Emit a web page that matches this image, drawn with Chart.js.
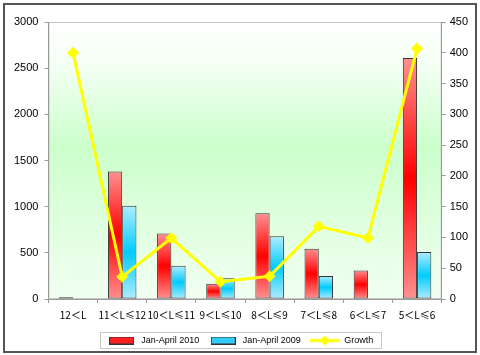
<!DOCTYPE html>
<html>
<head>
<meta charset="utf-8">
<script src="https://cdn.jsdelivr.net/npm/chart.js@4.4.0/dist/chart.umd.min.js"></script>
<style>
  html, body { margin: 0; padding: 0; background: #fff; }
  #wrap { width: 480px; height: 355px; }
</style>
</head>
<body>
<div id="wrap"><canvas id="myChart" width="480" height="355"></canvas></div>
<script>
const categories = ['12＜L', '11＜L≤12', '10＜L≤11', '9＜L≤10', '8＜L≤9', '7＜L≤8', '6＜L≤7', '5＜L≤6'];
const sales2010 = [20, 1380, 710, 165, 930, 545, 310, 2610];
const sales2009 = [0, 1010, 360, 225, 680, 250, 0, 510];
const growth = [400, 36, 99, 28, 37, 118, 99, 407];
const leftTicks = [0, 500, 1000, 1500, 2000, 2500, 3000];
const rightTicks = [0, 50, 100, 150, 200, 250, 300, 350, 400, 450];

// dégradé vertical des barres : clair en haut et en bas, saturé au milieu
function barGradient(light, mid) {
  return function (c) {
    const chart = c.chart;
    if (!chart.chartArea) return mid;
    const y = chart.scales.y;
    const top = y.getPixelForValue(c.raw);
    const bot = y.getPixelForValue(0);
    if (bot - top < 2) return mid;
    const g = chart.ctx.createLinearGradient(0, top, 0, bot);
    g.addColorStop(0, light);
    g.addColorStop(0.5, mid);
    g.addColorStop(1, light);
    return g;
  };
}

function legendIcon(kind) {
  const cv = document.createElement('canvas');
  const x = cv.getContext('2d');
  if (kind === 'line') {
    cv.width = 30; cv.height = 10;
    x.strokeStyle = '#ffff00';
    x.lineWidth = 3;
    x.beginPath(); x.moveTo(0, 5); x.lineTo(30, 5); x.stroke();
    x.fillStyle = '#ffff00';
    x.beginPath(); x.moveTo(15, 0); x.lineTo(20, 5); x.lineTo(15, 10); x.lineTo(10, 5); x.closePath(); x.fill();
  } else {
    cv.width = 25; cv.height = 8;
    x.fillStyle = kind === 'red' ? '#ff2020' : '#33ccff';
    x.fillRect(0.5, 0.5, 24, 7);
    x.strokeStyle = '#333';
    x.lineWidth = 1;
    x.strokeRect(0.5, 0.5, 24, 7);
  }
  return cv;
}
const icons = [legendIcon('red'), legendIcon('blue'), legendIcon('line')];

const frame = {
  id: 'frame',
  beforeDraw(chart) {
    const ctx = chart.ctx;
    const a = chart.chartArea;
    ctx.save();
    ctx.fillStyle = '#fff';
    ctx.fillRect(0, 0, chart.width, chart.height);
    const g = ctx.createLinearGradient(0, a.top, 0, a.bottom);
    g.addColorStop(0, '#ffffff');
    g.addColorStop(0.15, '#f4fff4');
    g.addColorStop(0.45, '#ccffcc');
    g.addColorStop(1, '#f2fff2');
    ctx.fillStyle = g;
    ctx.fillRect(a.left, a.top, a.right - a.left, a.bottom - a.top);
    ctx.strokeStyle = '#c8c8c8';
    ctx.lineWidth = 1;
    ctx.strokeRect(a.left + 0.5, a.top + 0.5, a.right - a.left - 1, a.bottom - a.top - 1);
    ctx.restore();
  },
  afterDraw(chart) {
    const ctx = chart.ctx;
    ctx.save();
    // cadre du graphique
    ctx.strokeStyle = '#555';
    ctx.lineWidth = 2;
    ctx.strokeRect(4, 4, 472, 348);
    // cadre de la légende
    const boxes = chart.legend.legendHitBoxes;
    if (boxes && boxes.length) {
      let x0 = Infinity, x1 = -Infinity, y0 = Infinity, y1 = -Infinity;
      boxes.forEach(b => {
        x0 = Math.min(x0, b.left); x1 = Math.max(x1, b.left + b.width);
        y0 = Math.min(y0, b.top); y1 = Math.max(y1, b.top + b.height);
      });
      ctx.strokeStyle = '#c8c8c8';
      ctx.lineWidth = 1;
      ctx.strokeRect(Math.round(x0) - 6.5, Math.round(y0) - 3.5, Math.round(x1 - x0) + 14, Math.round(y1 - y0) + 7);
    }
    ctx.restore();
  }
};

const config = {
  type: 'bar',
  data: {
    labels: categories,
    datasets: [
      {
        label: 'Jan-April 2010',
        data: sales2010,
        backgroundColor: barGradient('#ff9090', '#ff0000'),
        borderColor: '#333',
        borderWidth: c => (c.raw ? 1 : 0),
        borderSkipped: false,
        yAxisID: 'y',
        order: 2
      },
      {
        label: 'Jan-April 2009',
        data: sales2009,
        backgroundColor: barGradient('#b0ecff', '#00ccff'),
        borderColor: '#333',
        borderWidth: c => (c.raw ? 1 : 0),
        borderSkipped: false,
        yAxisID: 'y',
        order: 2
      },
      {
        type: 'line',
        label: 'Growth',
        data: growth,
        borderColor: '#ffff00',
        backgroundColor: '#ffff00',
        borderWidth: 3,
        pointStyle: 'rectRot',
        pointRadius: 6,
        pointBorderWidth: 0,
        tension: 0,
        yAxisID: 'y1',
        order: 1
      }
    ]
  },
  options: {
    responsive: false,
    animation: false,
    categoryPercentage: 0.58,
    barPercentage: 1.0,
    layout: { padding: { top: 22, left: 8, right: 8, bottom: 0 } },
    plugins: {
      tooltip: { enabled: false },
      legend: {
        position: 'bottom',
        labels: {
          usePointStyle: true,
          pointStyleWidth: 30,
          boxHeight: 9,
          font: { family: 'Arial, "Liberation Sans", sans-serif', size: 9 },
          color: '#000',
          padding: 9,
          generateLabels(chart) {
            return chart.data.datasets.map((ds, i) => ({
              text: ds.label,
              pointStyle: icons[i],
              datasetIndex: i,
              fontColor: '#000',
              lineWidth: 0,
              hidden: false
            }));
          }
        }
      }
    },
    scales: {
      x: {
        grid: { display: true, drawOnChartArea: false, color: '#999', tickLength: 4 },
        border: { color: '#999' },
        ticks: {
          color: '#000',
          maxRotation: 0,
          autoSkip: false,
          padding: 6,
          font: { family: '"Noto Sans CJK SC", sans-serif', size: 10 }
        }
      },
      y: {
        position: 'left',
        min: 0,
        max: 3000,
        afterBuildTicks(s) { s.ticks = leftTicks.map(v => ({ value: v })); },
        grid: { display: true, drawOnChartArea: false, color: '#999', tickLength: 4 },
        border: { color: '#999' },
        ticks: {
          color: '#000',
          padding: 6,
          callback: v => String(v),
          font: { family: 'Arial, "Liberation Sans", sans-serif', size: 11 }
        }
      },
      y1: {
        position: 'right',
        min: 0,
        max: 450,
        afterBuildTicks(s) { s.ticks = rightTicks.map(v => ({ value: v })); },
        grid: { display: true, drawOnChartArea: false, color: '#999', tickLength: 4 },
        border: { color: '#999' },
        ticks: {
          color: '#000',
          padding: 4,
          callback: v => String(v),
          font: { family: 'Arial, "Liberation Sans", sans-serif', size: 11 }
        }
      }
    }
  },
  plugins: [frame]
};

const ctx = document.getElementById('myChart').getContext('2d');
new Chart(ctx, config);
</script>
</body>
</html>
